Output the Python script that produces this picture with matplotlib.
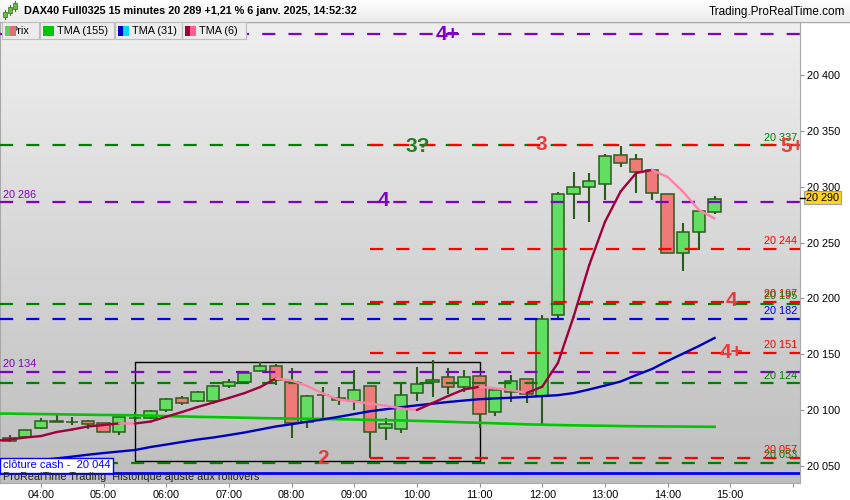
import numpy as np
import pandas as pd
import matplotlib
matplotlib.use("Agg")
import matplotlib.pyplot as plt
from matplotlib.patches import Rectangle
from matplotlib.colors import LinearSegmentedColormap

plt.rcParams['font.family'] = ['Liberation Sans', 'DejaVu Sans']

# ---- data: 15 min candles, DAX40 Full0325, 6 janv. 2025 ----
times = pd.date_range('2025-01-06 03:30', periods=46, freq='15min')
opens = [20074.8, 20075.7, 20084.3, 20089.9, 20089.5, 20090.3, 20088.2, 20080.7, 20092.8, 20093.2,
         20099.9, 20110.9, 20108.2, 20108.5, 20121.9, 20125.5, 20135.3, 20139.5, 20125.5, 20089.7,
         20114.0, 20108.8, 20108.2, 20121.6, 20083.8, 20082.9, 20115.1, 20125.2, 20129.4, 20120.5,
         20130.6, 20098.1, 20116.5, 20127.9, 20113.0, 20184.9, 20293.2, 20300.1, 20302.2, 20328.4,
         20324.6, 20315.0, 20293.2, 20240.4, 20259.8, 20277.7]
highs = [20077.8, 20082.2, 20093.2, 20095.7, 20093.9, 20091.2, 20088.2, 20094.0, 20098.1, 20100.1,
         20111.1, 20112.9, 20117.1, 20122.8, 20127.9, 20135.0, 20142.8, 20141.0, 20137.5, 20113.6,
         20120.5, 20120.5, 20135.9, 20121.6, 20092.7, 20124.0, 20138.9, 20144.9, 20137.5, 20135.9,
         20131.2, 20118.0, 20131.5, 20127.9, 20185.2, 20295.3, 20312.9, 20312.0, 20329.0, 20336.5,
         20329.3, 20315.5, 20293.2, 20267.3, 20278.5, 20291.7]
lows = [20071.8, 20075.7, 20083.1, 20089.3, 20086.7, 20083.1, 20080.7, 20077.8, 20089.7, 20091.8,
        20098.6, 20104.6, 20107.3, 20108.5, 20120.1, 20125.5, 20135.3, 20122.5, 20075.3, 20084.3,
        20093.2, 20104.6, 20100.1, 20056.9, 20073.3, 20079.3, 20108.5, 20112.0, 20114.2, 20116.5,
        20084.3, 20094.8, 20107.6, 20106.1, 20086.7, 20182.2, 20270.9, 20268.7, 20288.1, 20318.0,
        20294.1, 20288.1, 20240.4, 20224.8, 20243.4, 20275.6]
closes = [20072.4, 20082.2, 20090.3, 20089.7, 20089.1, 20087.6, 20080.7, 20093.9, 20092.6, 20099.2,
          20110.0, 20106.7, 20116.0, 20121.6, 20124.9, 20133.3, 20139.5, 20127.0, 20088.2, 20112.4,
          20113.2, 20111.1, 20118.0, 20080.7, 20087.3, 20113.6, 20123.1, 20127.0, 20120.5, 20129.4,
          20096.3, 20118.0, 20126.1, 20114.2, 20181.3, 20293.2, 20299.5, 20305.1, 20327.5, 20321.0,
          20313.5, 20294.7, 20240.4, 20259.2, 20278.3, 20288.8]

# moving averages, first point at 03:15 then one per candle
ma_times = pd.date_range('2025-01-06 03:15', periods=47, freq='15min')
tma155 = [20097.0, 20096.9, 20096.7, 20096.5, 20096.3, 20096.1, 20095.9, 20095.7, 20095.6, 20095.4,
          20095.1, 20094.7, 20094.4, 20094.0, 20093.8, 20093.5, 20093.2, 20092.9, 20092.7, 20092.5,
          20092.3, 20092.1, 20091.9, 20091.6, 20091.3, 20091.1, 20090.8, 20090.4, 20090.0, 20089.6,
          20089.1, 20088.7, 20088.2, 20087.8, 20087.3, 20087.0, 20086.7, 20086.4, 20086.2, 20086.0,
          20085.8, 20085.6, 20085.5, 20085.4, 20085.3, 20085.2, 20085.1]
tma31 = [20050.9, 20052.4, 20053.9, 20055.4, 20056.8, 20058.4, 20060.1, 20061.6, 20063.0, 20064.3,
         20067.0, 20069.2, 20071.5, 20073.7, 20075.5, 20077.7, 20080.0, 20082.7, 20085.4, 20087.4,
         20089.6, 20091.7, 20094.0, 20096.5, 20099.0, 20100.8, 20102.6, 20104.3, 20105.8, 20107.3,
         20108.6, 20109.8, 20110.5, 20111.1, 20111.8, 20112.6, 20113.4, 20115.3, 20118.5, 20122.0,
         20125.6, 20131.4, 20136.8, 20144.0, 20150.7, 20157.4, 20164.6]
tma6 = [20072.4, 20073.7, 20075.5, 20076.8, 20080.4, 20082.7, 20085.4, 20086.7, 20088.2, 20088.0,
        20089.8, 20094.1, 20098.3, 20102.8, 20106.8, 20110.9, 20115.3, 20120.7, 20128.3, 20126.5,
        20121.6, 20114.9, 20109.5, 20107.9, 20105.9, 20104.0, 20101.5, 20100.1, 20106.4, 20112.7,
        20118.5, 20121.0, 20119.5, 20118.0, 20115.3, 20121.0, 20142.2, 20183.6, 20229.9, 20268.4,
        20295.7, 20312.3, 20315.0, 20308.7, 20295.3, 20279.2, 20271.5]

# horizontal levels
green_levels = [20337, 20195, 20124, 20053]
red_levels = [20337, 20244, 20197, 20151, 20057]
purple_levels = [20437, 20286, 20134]
blue_levels = [20182]
cash_close = 20044
last_price = 20290
range_box = ('05:30', '11:00', 20054.5, 20143)
red_start = '09:15'


def hrs(t):
    t = pd.Timestamp(t) if not isinstance(t, str) else pd.Timestamp('2025-01-06 ' + t)
    return t.hour + t.minute / 60.0


x = np.array([hrs(t) for t in times])
xm = np.array([hrs(t) for t in ma_times])

GREEN_C = '#62de62'
RED_C = '#ef7a7a'
EDGE = '#2b5c1c'
LV_GREEN = '#008000'
LV_RED = '#ff0000'
LV_PURPLE = '#8000c8'
LV_BLUE = '#0000ff'

fig = plt.figure(figsize=(8.5, 5), dpi=100)
fig.patch.set_facecolor('white')
ax = fig.add_axes([0, 17 / 500, 800 / 850, 461 / 500])
x0, x1 = 3.348, 16.113
y0, y1 = 20034.8, 20447.4
ax.set_xlim(x0, x1)
ax.set_ylim(y0, y1)

# gradient background
bg = LinearSegmentedColormap.from_list('bg', ['#bebebe', '#efefef'])
ax.imshow(np.linspace(0, 1, 200)[:, None], extent=[x0, x1, y0, y1], origin='lower',
          aspect='auto', cmap=bg, zorder=0)

# range box
bx0, bx1 = hrs(range_box[0]), hrs(range_box[1])
ax.add_patch(Rectangle((bx0, range_box[2]), bx1 - bx0, range_box[3] - range_box[2],
                       fill=False, edgecolor='black', lw=1, zorder=2))

# candles
w = 0.196
for t, o, h, l, c in zip(x, opens, highs, lows, closes):
    ax.vlines(t, l, h, color=EDGE, lw=1.5, zorder=3)
    bottom = min(o, c)
    height = max(abs(c - o), 0.7)
    ax.add_patch(Rectangle((t - w / 2, bottom), w, height,
                           facecolor=GREEN_C if c >= o else RED_C,
                           edgecolor=EDGE, lw=1.1, zorder=4))

# dashed levels
dash = dict(lw=1.6, dashes=(5.9, 5.9), zorder=5)
for v in green_levels:
    ax.plot([x0, x1], [v, v], color=LV_GREEN, **dash)
for v in purple_levels:
    ax.plot([x0, x1], [v, v], color=LV_PURPLE, **dash)
for v in blue_levels:
    ax.plot([x0, x1], [v, v], color=LV_BLUE, **dash)
for v in red_levels:
    ax.plot([hrs(red_start), x1], [v, v], color=LV_RED, **dash)

# cash close line
ax.axhline(cash_close, color='#0000ff', lw=2, zorder=5)

# moving averages
ax.plot(xm, tma155, color='#00c800', lw=1.9, zorder=6)
ax.plot(xm, tma31, color='#0000c0', lw=1.7, zorder=6)
for i in range(len(xm) - 1):
    col = '#a0003c' if tma6[i + 1] >= tma6[i] else '#ff80a8'
    ax.plot(xm[i:i + 2], tma6[i:i + 2], color=col, lw=1.7, zorder=6,
            solid_capstyle='round')

# level value labels
ytr = ax.get_yaxis_transform()
small = 7.8
for v in red_levels[1:]:
    ax.annotate(f"{v:,}".replace(',', ' '), (797 / 800, v), xycoords=ytr,
                xytext=(0, 2), textcoords='offset points', ha='right', va='bottom',
                color=LV_RED, fontsize=small, zorder=7)
for v in green_levels:
    ax.annotate(f"{v:,}".replace(',', ' '), (797 / 800, v), xycoords=ytr,
                xytext=(0, 2), textcoords='offset points', ha='right', va='bottom',
                color=LV_GREEN, fontsize=small, zorder=7)
for v in blue_levels:
    ax.annotate(f"{v:,}".replace(',', ' '), (797 / 800, v), xycoords=ytr,
                xytext=(0, 2), textcoords='offset points', ha='right', va='bottom',
                color=LV_BLUE, fontsize=small, zorder=7)
for v in purple_levels[1:]:
    ax.annotate(f"{v:,}".replace(',', ' '), (3 / 800, v), xycoords=ytr,
                xytext=(0, 2), textcoords='offset points', ha='left', va='bottom',
                color=LV_PURPLE, fontsize=small, zorder=7)

# wave labels
big = dict(fontsize=15, fontweight='bold', ha='center', va='center', zorder=8)
ax.text(hrs('10:29'), 20436.5, '4+', color=LV_PURPLE, **big)
ax.text(hrs('10:01'), 20336.4, '3?', color='#208020', **big)
ax.text(hrs('11:59'), 20338.2, '3', color='#e83c3c', **big)
ax.text(hrs('09:28'), 20287.2, '4', color=LV_PURPLE, **big)
ax.text(hrs('15:01'), 20197.7, '4', color='#e83c3c', **big)
ax.text(hrs('15:01'), 20152.0, '4+', color='#e83c3c', **big)
ax.text(hrs('08:30'), 20056.3, '2', color='#e83c3c', **big)
ax.text(hrs('15:48'), 20336.4, '5+', color='#e83c3c', fontsize=15, fontweight='bold',
        ha='left', va='center', zorder=8, clip_on=True)

# axes styling
for s in ax.spines.values():
    s.set_color('#a8a8a8')
ax.yaxis.tick_right()
yt = list(range(20050, 20401, 50))
ax.set_yticks(yt)
ax.set_yticklabels([f"{v:,}".replace(',', ' ') for v in yt])
xt = list(range(4, 17))
ax.set_xticks(xt)
ax.set_xticklabels([f"{h:02d}:00" if h < 16 else '' for h in xt])
ax.tick_params(axis='both', labelsize=7.8, length=3, color='#909090', pad=2,
               labelcolor='black')

# last price tag
ax.annotate(f"{last_price:,}".replace(',', ' '), (1.0075, last_price), xycoords=ytr,
            ha='left', va='center', fontsize=7.8, annotation_clip=False,
            bbox=dict(boxstyle='square,pad=0.15', facecolor='#ffd21f', edgecolor='#a0a0a0', lw=0.8))
ax.plot([1.0, 1.006], [last_price, last_price], color='black', lw=1, transform=ytr,
        clip_on=False, zorder=9)

# ---- overlay: title bar, legend, footer texts (pixel coords) ----
ov = fig.add_axes([0, 0, 1, 1], zorder=10)
ov.set_xlim(0, 850)
ov.set_ylim(500, 0)
ov.axis('off')
ov.patch.set_alpha(0)

tb = LinearSegmentedColormap.from_list('tb', ['#ffffff', '#ececec'])
ov.imshow(np.linspace(0, 1, 50)[:, None], extent=[0, 850, 21.5, 0], aspect='auto',
          cmap=tb, zorder=1)
ov.plot([0, 850], [21.5, 21.5], color='#a8a8a8', lw=1, zorder=2)

# small candle icon
for cx, ya, yb, col in [(5, 12, 17, '#60c040'), (10, 7, 13, '#60c040'), (15, 3, 9, '#60c040')]:
    ov.plot([cx, cx], [ya - 2, yb + 2], color='#4a7a2a', lw=0.8, zorder=3)
    ov.add_patch(Rectangle((cx - 1.7, ya), 3.4, yb - ya, facecolor=col,
                           edgecolor='#4a7a2a', lw=0.6, zorder=4))

ov.text(24, 11.5, 'DAX40 Full0325 15 minutes 20 289 +1,21 % 6 janv. 2025, 14:52:32',
        fontsize=7.8, fontweight='bold', ha='left', va='center', zorder=5)
ov.text(845, 12.5, 'Trading.ProRealTime.com', fontsize=8.5, ha='right', va='center', zorder=5)

# legend boxes
legend_items = [(2, 39, 'Prix', ('#5ccf5c', '#e07070'), 10),
                (40, 114, 'TMA (155)', ('#00c800', '#00c800'), 57),
                (115, 182, 'TMA (31)', ('#0000c8', '#00d8ff'), 132),
                (182, 246, 'TMA (6)', ('#a0003c', '#ff6090'), 199)]
for lx0, lx1, lab, (c1, c2), tx in legend_items:
    ov.add_patch(Rectangle((lx0, 22), lx1 - lx0, 17, facecolor='#ececec',
                           edgecolor='#bdbdbd', lw=0.8, zorder=3))
    ov.text(tx, 31, lab, fontsize=7.8, ha='left', va='center', zorder=4)
    ov.add_patch(Rectangle((lx0 + 3, 25.5), 5.5, 10, facecolor=c1, lw=0, zorder=5))
    ov.add_patch(Rectangle((lx0 + 8.5, 25.5), 5.5, 10, facecolor=c2, lw=0, zorder=5))

# cash close box and footer
ov.text(3, 465.5, 'clôture cash -  20 044', fontsize=8, color='#0000ff', ha='left',
        va='center', zorder=5,
        bbox=dict(boxstyle='square,pad=0.25', facecolor='white', edgecolor='#0000ff', lw=1))
ov.text(3, 477, 'ProRealTime Trading  Historique ajusté aux rollovers', fontsize=7.8,
        color='#202020', ha='left', va='center', zorder=5)

fig.savefig('out.png', dpi=100)
